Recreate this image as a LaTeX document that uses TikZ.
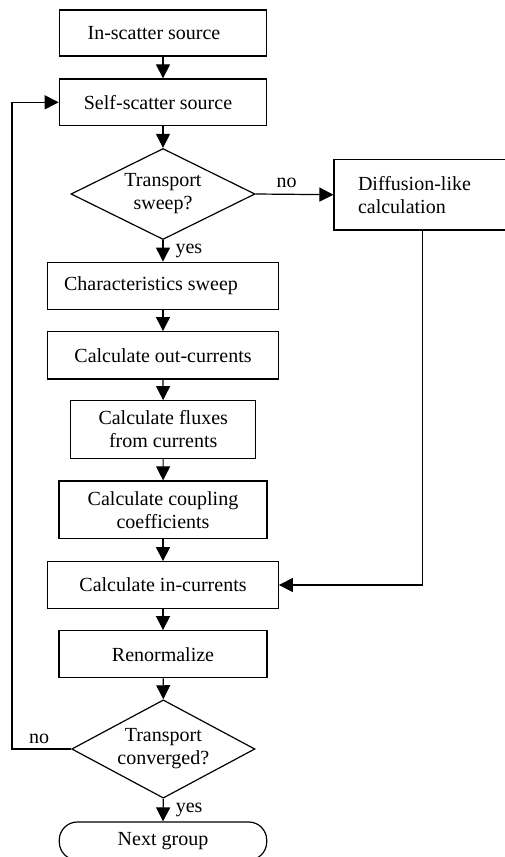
\documentclass[tikz,border=0pt]{standalone}
\usepackage{fontspec}
\setmainfont{Liberation Serif}
\usetikzlibrary{arrows.meta,shapes.geometric}
\begin{document}
\begin{tikzpicture}[x=1pt,y=-1pt,
  every node/.style={font=\fontsize{20}{23}\selectfont},
  box/.style={draw,line width=1.2pt,rectangle,inner sep=0pt,align=center},
  dec/.style={draw,line width=1.2pt,diamond,aspect=2,inner sep=0pt,align=center},
  term/.style={draw,line width=1.2pt,rectangle,rounded corners=18pt,inner sep=0pt},
  lbl/.style={inner sep=0pt},
  arr/.style={line width=1.2pt,-{Triangle[length=14pt,width=14pt]}},
  ln/.style={line width=1.2pt}]
\fill[white] (0,0) rectangle (505,857);
\useasboundingbox (0,0) rectangle (505,857);
\clip (0,0) rectangle (505,857);

\node[box,minimum width=207.4pt,minimum height=46pt] (in) at (163,33) {In-scatter source\hspace*{18pt}};
\node[box,minimum width=207.4pt,minimum height=46.7pt] (self) at (163,102.3) {Self-scatter source\hspace*{10pt}};
\node[dec,minimum width=184pt,minimum height=91pt] (d1) at (163,194) {Transport\\sweep?};
\node[box,minimum width=177.4pt,minimum height=70.7pt,inner xsep=24pt,text width=129.4pt,align=left] (dif) at (422.7,194.7) {Diffusion-like\\calculation};
\node[box,minimum width=230.6pt,minimum height=47.7pt] (char) at (163,286) {Characteristics sweep\hspace*{24pt}};
\node[box,minimum width=230.6pt,minimum height=47.3pt] (out) at (163,355.3) {Calculate out-currents};
\node[box,minimum width=185pt,minimum height=57.6pt] (flux) at (163.2,429.5) {Calculate fluxes\\from currents};
\node[box,minimum width=208pt,minimum height=57.7pt] (coup) at (163,509.8) {Calculate coupling\\coefficients};
\node[box,minimum width=230.6pt,minimum height=46.6pt] (inc) at (163,585) {Calculate in-currents};
\node[box,minimum width=208pt,minimum height=47pt] (ren) at (163,654.2) {Renormalize};
\node[dec,minimum width=183.3pt,minimum height=98.3pt] (d2) at (163.3,749) {Transport\\converged?};
\node[term,minimum width=207.4pt,minimum height=38pt] (next) at (163,841) {Next group};

\draw[arr] (in) -- (self);
\draw[arr] (self) -- (d1);
\draw[arr] (d1.east) -- (dif.west) node[lbl,pos=0.4,above=6pt] (no1) {no};
\draw[arr] (d1.south) -- (char.north) node[lbl,midway,right=12pt] (yes1) {yes};
\draw[arr] (char) -- (out);
\draw[arr] (out) -- (flux);
\draw[arr] (flux) -- (coup);
\draw[arr] (coup) -- (inc);
\draw[arr] (inc) -- (ren);
\draw[arr] (ren) -- (d2.north);
\draw[arr] (d2.south) -- (next.north) node[lbl,midway,right=12pt] (yes2) {yes};
\draw[arr] (dif.south) |- (inc.east);
\coordinate (lft) at (12,749);
\draw[arr] (d2.west) -- (lft) |- (self.west);
\node[lbl] (no2) at (39,739) {no};
\end{tikzpicture}
\end{document}
